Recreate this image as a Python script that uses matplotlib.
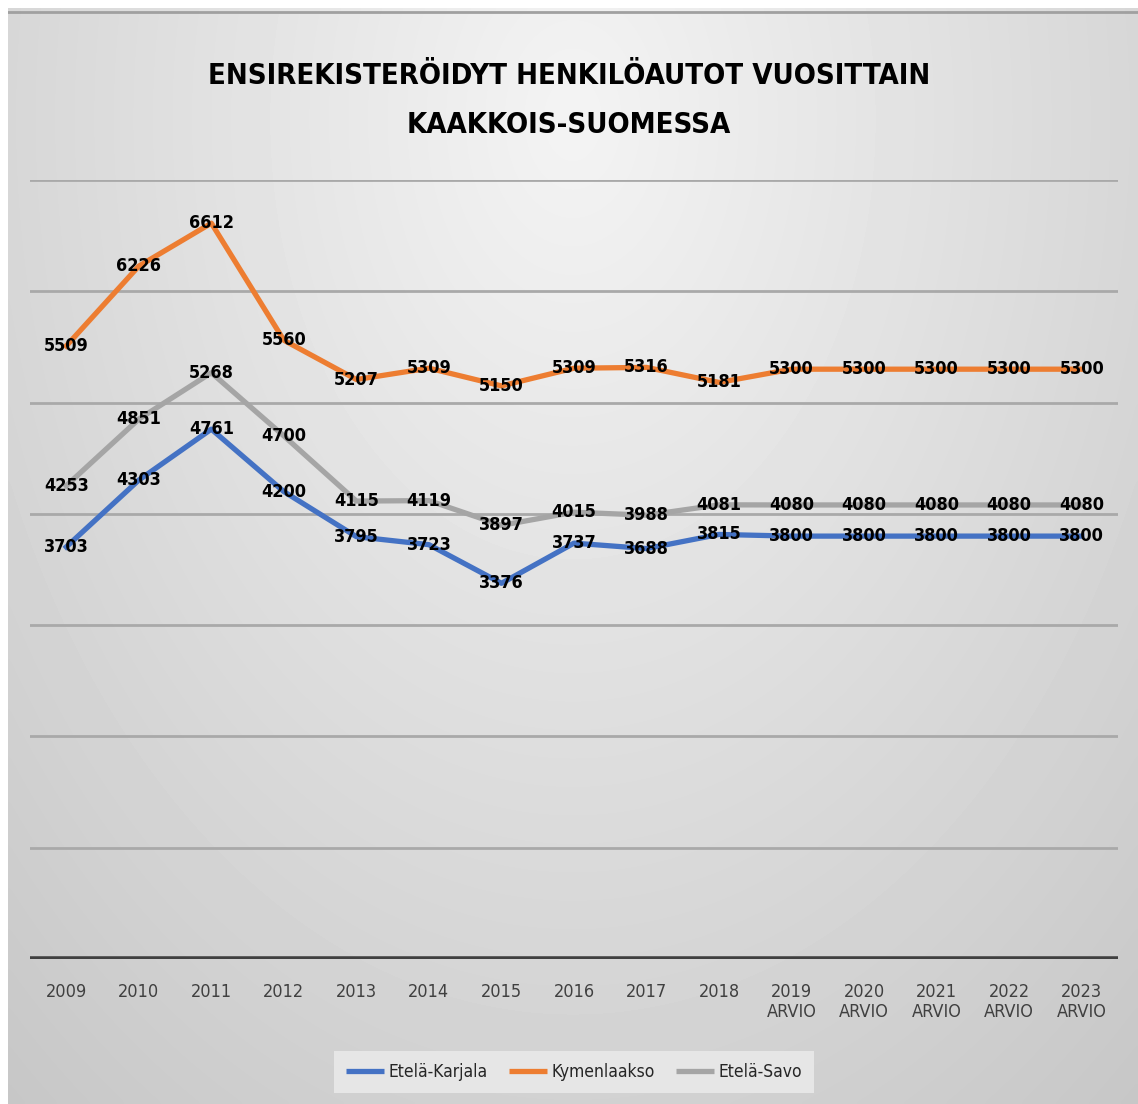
import numpy as np
import matplotlib
matplotlib.use("Agg")
import matplotlib.pyplot as plt
from matplotlib import font_manager
from matplotlib.font_manager import FontProperties

# data
years = ["2009", "2010", "2011", "2012", "2013", "2014", "2015", "2016",
         "2017", "2018", "2019\nARVIO", "2020\nARVIO", "2021\nARVIO",
         "2022\nARVIO", "2023\nARVIO"]
etela_karjala = [3703, 4303, 4761, 4200, 3795, 3723, 3376, 3737, 3688, 3815,
                 3800, 3800, 3800, 3800, 3800]
kymenlaakso = [5509, 6226, 6612, 5560, 5207, 5309, 5150, 5309, 5316, 5181,
               5300, 5300, 5300, 5300, 5300]
etela_savo = [4253, 4851, 5268, 4700, 4115, 4119, 3897, 4015, 3988, 4081,
              4080, 4080, 4080, 4080, 4080]
series_names = ["Etelä-Karjala", "Kymenlaakso", "Etelä-Savo"]
colors = ["#4472C4", "#ED7D31", "#A5A5A5"]


# look for a condensed / narrow face, the original uses Calibri
def find_face(bold):
    best = None
    for f in font_manager.fontManager.ttflist:
        fn = f.fname.lower()
        if not ("narrow" in fn or "condensed" in fn or str(f.stretch) in ("condensed", "semi-condensed")):
            continue
        if "oblique" in fn or "italic" in fn or f.style != "normal":
            continue
        is_bold = f.weight in ("bold", 700) or "bold" in fn
        if is_bold != bold:
            continue
        if "mono" in fn or "serif" in fn and "sans" not in fn:
            continue
        best = f.fname
        if "liberation" in fn or "dejavu" in fn:
            break
    return best


reg_path = find_face(False)
bold_path = find_face(True)
if reg_path and bold_path:
    fp_reg = lambda s: FontProperties(fname=reg_path, size=s)
    fp_bold = lambda s: FontProperties(fname=bold_path, size=s)
    title_size, label_size, tick_size, leg_size = 21, 13, 13, 12.5
else:
    fp_reg = lambda s: FontProperties(family="Roboto", size=s)
    fp_bold = lambda s: FontProperties(family="Roboto", weight="bold", size=s)
    title_size, label_size, tick_size, leg_size = 20, 12, 13, 12.5

W, H = 1138, 1104
fig = plt.figure(figsize=(W / 100, H / 100), dpi=100)
fig.patch.set_facecolor("white")

# gradient background (radial, light in the upper middle)
bg = fig.add_axes([8 / W, 0, (W - 8) / W, (H - 8) / H])
yy, xx = np.mgrid[0:1:300j, 0:1:300j]
r = np.sqrt(((xx - 0.5) / 0.8) ** 2 + ((yy - 0.1) / 1.2) ** 2)
shade = np.clip(0.955 - 0.18 * r, 0.77, 1.0)
bg.imshow(shade, cmap="gray", vmin=0, vmax=1, aspect="auto",
          extent=[0, 1, 1, 0], interpolation="bicubic")
bg.axhline(0.004, color="#a0a0a0", lw=2)
bg.set_xlim(0, 1)
bg.set_ylim(1, 0)
bg.axis("off")

# main plot area
ax = fig.add_axes([30 / W, (H - 959) / H, 1088 / W, (959 - 180) / H])
ax.patch.set_alpha(0)
x = np.arange(len(years))

for yv in range(1000, 8000, 1000):
    ax.axhline(yv, color="#a9a9a9", lw=2, zorder=1)
ax.axhline(0, color="#404040", lw=4, zorder=2)

for vals, name, col in zip([etela_karjala, kymenlaakso, etela_savo], series_names, colors):
    ax.plot(x, vals, color=col, lw=3.8, label=name, zorder=3, solid_joinstyle="round")
    for i, v in enumerate(vals):
        ax.text(i, v, str(v), ha="center", va="center", fontproperties=fp_bold(label_size),
                color="black", zorder=5)

ax.set_xlim(-0.5, len(years) - 0.5)
ax.set_ylim(0, 7000)
ax.set_xticks(x)
ax.set_xticklabels(years, color="#404040")
for t in ax.get_xticklabels():
    t.set_fontproperties(fp_reg(tick_size))
ax.tick_params(axis="x", length=0, pad=17)
ax.set_yticks([])
for s in ax.spines.values():
    s.set_visible(False)

fig.text(0.5, 1 - 76 / H, "ENSIREKISTERÖIDYT HENKILÖAUTOT VUOSITTAIN",
         ha="center", va="center", fontproperties=fp_bold(title_size))
fig.text(0.5, 1 - 125 / H, "KAAKKOIS-SUOMESSA",
         ha="center", va="center", fontproperties=fp_bold(title_size))

leg = fig.legend(loc="center", bbox_to_anchor=(574 / W, 1 - 1072 / H), ncol=3,
                 prop=fp_reg(leg_size), frameon=True, facecolor="#ececec", edgecolor="none",
                 fancybox=False, handlelength=2.2, handletextpad=0.25,
                 columnspacing=1.2, borderpad=0.7)
for t in leg.get_texts():
    t.set_color("#262626")
for h in leg.get_lines():
    h.set_linewidth(3.8)
    h.set_solid_capstyle("butt")

fig.savefig("out.png", dpi=100)
